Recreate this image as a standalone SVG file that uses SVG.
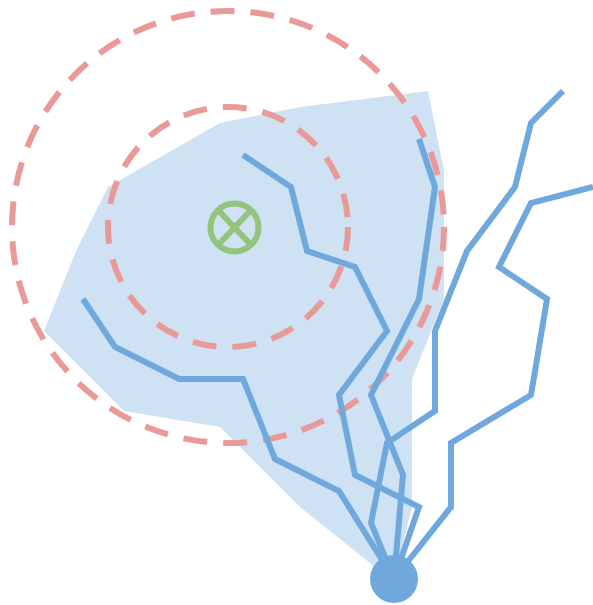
<svg xmlns="http://www.w3.org/2000/svg" width="593" height="605" viewBox="0 0 593 605">
<style>
.r{fill:none;stroke:#6fa8dc;stroke-width:6}
.c{fill:none;stroke:#ea9999;stroke-width:6;stroke-dasharray:24 16}
</style>
<rect width="593" height="605" fill="#fff"/>
<g id="area"><polygon points="44,331 76,251 108,187 220,123 300,107 428,91 444,171 444,299 412,379 412,507 396,571 380,571 300,507 220,427 124,411" fill="#cfe2f3"/></g>
<g id="circles">
<circle id="outer" class="c" cx="228" cy="227" r="216"/>
<circle id="inner" class="c" cx="228" cy="227" r="120"/>
</g>
<g id="connectors">
<polyline class="r" points="243,155 291,187 307,251 355,267 387,331 339,395 355,475 419,507 394,579"/>
<polyline class="r" points="83,299 115,347 179,379 243,379 275,459 339,491 394,579"/>
<polyline class="r" points="419,139 435,187 419,299 371,395 403,475 394,579"/>
<polyline class="r" points="563,91 531,123 515,187 467,251 435,331 435,411 387,443 371,523 394,579"/>
<polyline class="r" points="593,187 531,203 499,267 547,299 531,395 451,443 451,507 394,579"/>
</g>
<g id="hub"><circle cx="394" cy="579" r="24" fill="#6fa8dc"/></g>
<g id="target" fill="none" stroke="#93c47d" stroke-width="6">
<circle cx="234.500" cy="227.500" r="24"/>
<path d="M219,211 250,244 M250,211 219,244"/>
</g>
</svg>
